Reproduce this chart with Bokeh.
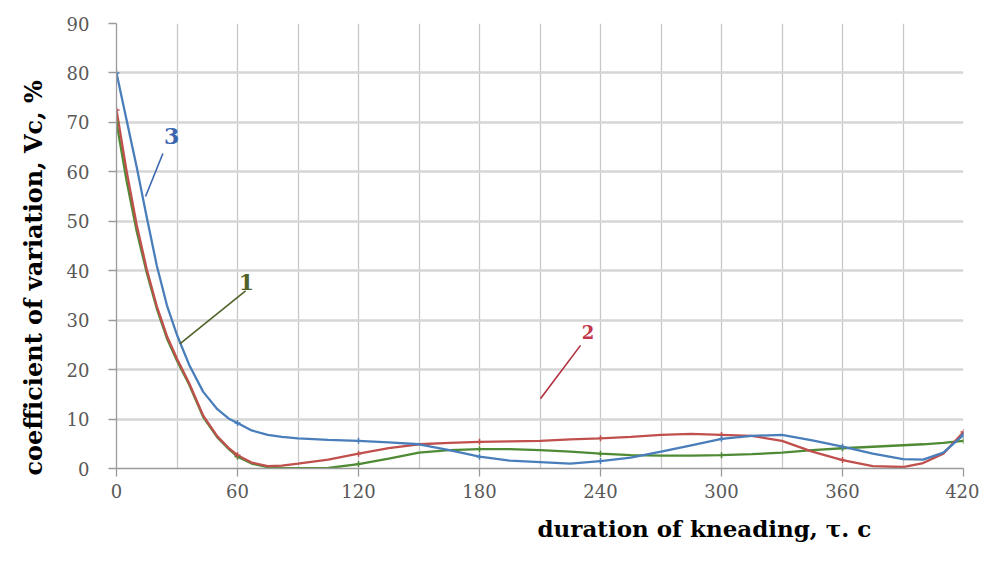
from bokeh.plotting import figure
from bokeh.models import Range1d, FixedTicker, Label, Title
from bokeh.embed import file_html
from bokeh.resources import INLINE

# ---- data ----
time_s = [0, 5, 10, 15, 20, 25, 30, 36, 43, 50, 56, 60, 67, 75, 82, 90, 105, 120, 135, 150,
          165, 180, 195, 210, 225, 240, 255, 270, 285, 300, 315, 330, 345, 360, 375, 390,
          400, 410, 420]
cv_curve1 = [70.0, 58.2, 48.0, 39.6, 32.3, 26.3, 21.8, 17.0, 10.4, 6.3, 3.8, 2.4, 1.0, 0.3, 0.1,
             0.05, 0.1, 0.9, 2.0, 3.2, 3.7, 3.9, 3.9, 3.7, 3.4, 3.0, 2.7, 2.6, 2.6, 2.7, 2.9,
             3.2, 3.7, 4.1, 4.4, 4.7, 4.9, 5.2, 5.6]
cv_curve2 = [72.5, 60.2, 49.3, 40.3, 32.8, 26.8, 22.2, 17.3, 10.7, 6.5, 4.0, 2.7, 1.2, 0.5, 0.6,
             1.0, 1.8, 3.0, 4.1, 4.9, 5.2, 5.4, 5.5, 5.6, 5.9, 6.1, 6.4, 6.8, 7.0, 6.8, 6.6,
             5.6, 3.4, 1.7, 0.5, 0.3, 1.1, 3.0, 7.4]
cv_curve3 = [80.0, 70.5, 61.0, 50.8, 41.0, 33.0, 27.0, 21.0, 15.5, 12.0, 10.0, 9.2, 7.7, 6.8, 6.4,
             6.1, 5.8, 5.6, 5.3, 4.9, 3.7, 2.4, 1.6, 1.3, 1.0, 1.5, 2.2, 3.4, 4.7, 6.0, 6.6,
             6.8, 5.7, 4.4, 3.0, 1.9, 1.8, 3.2, 6.8]

x_ticks = [0, 60, 120, 180, 240, 300, 360, 420]
x_grid = [0, 30, 60, 90, 120, 150, 180, 210, 240, 270, 300, 330, 360, 390, 420]
y_ticks = [0, 10, 20, 30, 40, 50, 60, 70, 80, 90]

curve_names = ["1", "2", "3"]
name_x = [64.4, 233.8, 27.4]
name_y = [37.8, 27.6, 67.2]
leader_x0 = [31.4, 210.2, 14.4]
leader_y0 = [25.2, 14.1, 55.0]
leader_x1 = [64.0, 230.1, 23.0]
leader_y1 = [35.9, 24.9, 63.7]

x_title = "duration of kneading, τ. c"
y_title = "coefficient of variation, Vc, %"

# ---- styles ----
curve_colors = ["#4f8a34", "#c0504d", "#4a7ebb"]
name_colors = ["#4f6228", "#c4364a", "#3a66b0"]
leader_colors = ["#4f6228", "#b03040", "#3a66b0"]
name_sizes = ["22px", "18px", "22px"]
tick_font = "DejaVu Serif"
title_font = "DejaVu Serif"

p = figure(frame_width=847, frame_height=445,
           min_border_left=116, min_border_top=23, min_border_right=16, min_border_bottom=10,
           x_range=Range1d(0, 420), y_range=Range1d(0, 90),
           output_backend="svg", toolbar_location=None)
p.outline_line_color = None
p.background_fill_color = "white"
p.border_fill_color = "white"

# grids
p.xgrid.ticker = FixedTicker(ticks=x_grid)
p.xgrid.grid_line_color = "#c8c8c8"
p.xgrid.grid_line_width = 1.3
p.ygrid.ticker = FixedTicker(ticks=y_ticks)
p.ygrid.grid_line_color = "#d6d6d6"
p.ygrid.grid_line_width = 2.6

# axes
for ax in (p.xaxis, p.yaxis):
    ax.axis_line_color = "#9a9a9a"
    ax.axis_line_width = 1.3
    ax.major_tick_line_color = "#9a9a9a"
    ax.major_tick_line_width = 1.3
    ax.major_tick_out = 8
    ax.major_tick_in = 0
    ax.minor_tick_line_color = None
    ax.major_label_text_font = tick_font
    ax.major_label_text_font_size = "18px"
    ax.major_label_text_color = "#595959"
p.xaxis.ticker = FixedTicker(ticks=x_ticks)
p.yaxis.ticker = FixedTicker(ticks=y_ticks)
p.xaxis.major_label_standoff = 7
p.yaxis.major_label_standoff = 19

# axis titles placed as side titles with offsets
p.add_layout(Title(text=x_title, align="left", offset=421, standoff=24,
                   text_font=title_font, text_font_size="23px", text_font_style="bold",
                   text_color="black"), "below")
p.add_layout(Title(text=y_title, align="left", offset=-7, standoff=32,
                   text_font=title_font, text_font_size="24px", text_font_style="bold",
                   text_color="black"), "left")

# curves
curves = [cv_curve1, cv_curve2, cv_curve3]
for vals, col in zip(curves, curve_colors):
    p.line(time_s, vals, line_color=col, line_width=2.3)
for vals, col in zip(curves, curve_colors):
    mx = [t for t in time_s if t in x_ticks]
    my = [v for t, v in zip(time_s, vals) if t in x_ticks]
    p.scatter(mx, my, marker="cross", size=6, line_color=col, line_width=1.5)

# curve numbers with leader lines
p.segment(leader_x0, leader_y0, leader_x1, leader_y1, line_color=leader_colors, line_width=1.6)
for name, nx, ny, col, fs in zip(curve_names, name_x, name_y, name_colors, name_sizes):
    p.add_layout(Label(x=nx, y=ny, text=name, text_color=col, text_font="DejaVu Serif",
                       text_font_size=fs, text_font_style="bold",
                       text_align="center", text_baseline="middle"))

open("out.html", "w").write(file_html(p, INLINE))
